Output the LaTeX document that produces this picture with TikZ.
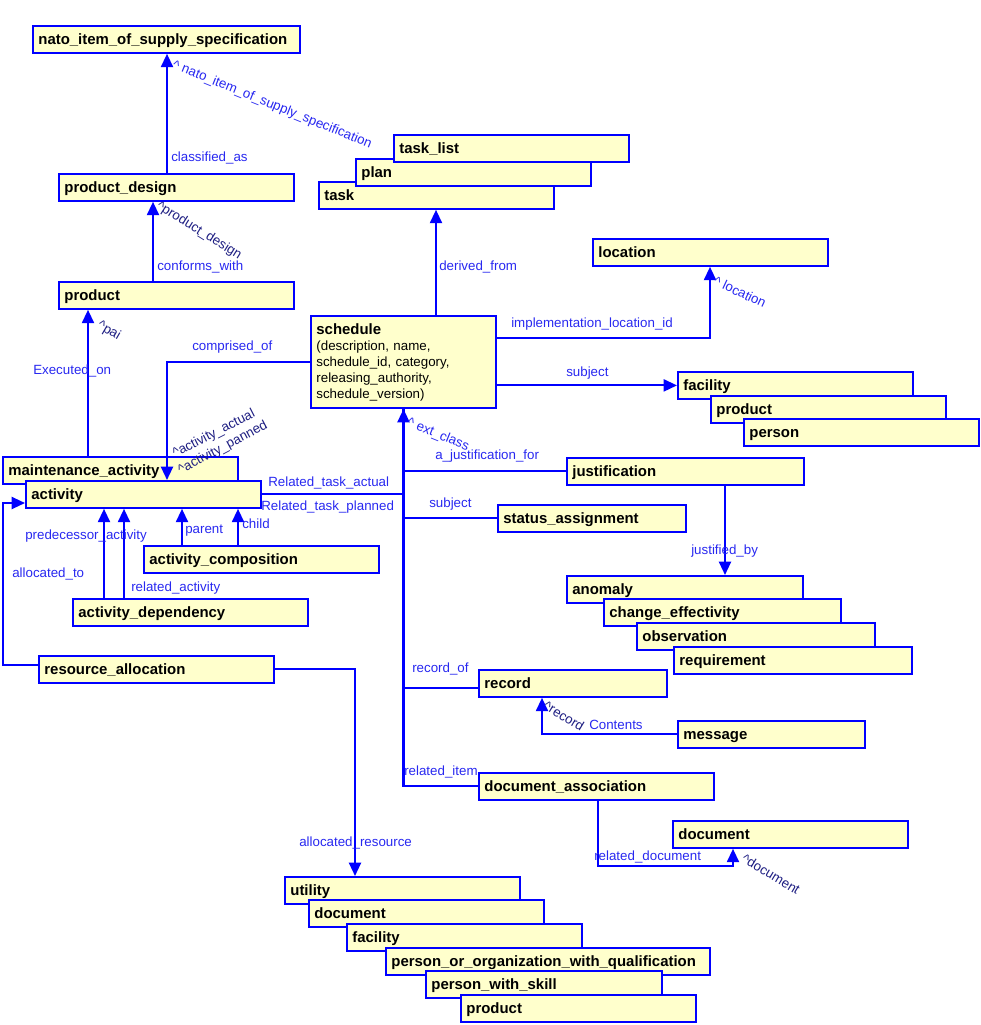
\documentclass[tikz,border=0pt]{standalone}
\usepackage{fontspec}
\setmainfont{Liberation Sans}
\usetikzlibrary{arrows.meta}

\definecolor{entblue}{RGB}{0,0,255}
\definecolor{entfill}{RGB}{255,255,204}
\definecolor{relblue}{RGB}{40,40,240}
\definecolor{rolenavy}{RGB}{30,30,130}

\newcommand{\entfont}{\fontsize{11.2pt}{13pt}\selectfont\bfseries}
\newcommand{\relfont}{\fontsize{10pt}{12pt}\selectfont}

\tikzset{
  entbase/.style={draw=entblue, fill=entfill, line width=1.6pt, anchor=north west,
    inner xsep=4pt, inner ysep=0pt, align=left, text width=#1*0.75pt-9.6pt},
  ent/.style={entbase=#1, minimum height=20pt, text height=9.4pt, text depth=2pt, font=\entfont},
  ent/.default=237,
  rel/.style={draw=entblue, line width=1.6pt, -{Triangle[length=10pt,width=9pt]}},
  link/.style={draw=entblue, line width=1.6pt},
  lbl/.style={font=\relfont, text=relblue, inner sep=0pt, anchor=west},
  role/.style={font=\relfont, text=rolenavy, inner sep=0pt},
}

\begin{document}
\begin{tikzpicture}[x=0.75pt, y=-0.75pt]

    \useasboundingbox (0,0) rectangle (981,1025);

    % Draw the entities (a later box lies on top of an earlier one)
    \node[ent=269] (nisspec) at (32,25) {nato\_item\_of\_supply\_specification};
    \node[ent] (task) at (318,181) {task};
    \node[ent] (plan) at (355,158) {plan};
    \node[ent] (tasklist) at (393,134) {task\_list};
    \node[ent] (pdesign) at (58,173) {product\_design};
    \node[ent] (location) at (592,238) {location};
    \node[ent] (product) at (58,281) {product};
    \node[entbase=187, minimum height=68.9pt, font=\relfont] (schedule) at (310,315)
        {{\entfont schedule}\\(description, name,\\schedule\_id, category,\\releasing\_authority,\\schedule\_version)};
    \node[ent] (facility) at (677,371) {facility};
    \node[ent] (sproduct) at (710,395) {product};
    \node[ent] (person) at (743,418) {person};
    \node[ent] (mactivity) at (2,456) {maintenance\_activity};
    \node[ent] (activity) at (25,480) {activity};
    \node[ent=239] (justification) at (566,457) {justification};
    \node[ent=190] (sassign) at (497,504) {status\_assignment};
    \node[ent] (acomp) at (143,545) {activity\_composition};
    \node[ent=238] (anomaly) at (566,575) {anomaly};
    \node[ent=239] (ceffect) at (603,598) {change\_effectivity};
    \node[ent=240] (observation) at (636,622) {observation};
    \node[ent=240] (requirement) at (673,646) {requirement};
    \node[ent] (adep) at (72,598) {activity\_dependency};
    \node[ent] (ralloc) at (38,655) {resource\_allocation};
    \node[ent=190] (record) at (478,669) {record};
    \node[ent=189] (message) at (677,720) {message};
    \node[ent] (dassoc) at (478,772) {document\_association};
    \node[ent] (document) at (672,820) {document};
    \node[ent] (utility) at (284,876) {utility};
    \node[ent] (rdocument) at (308,899) {document};
    \node[ent] (rfacility) at (346,923) {facility};
    \node[ent=326] (porg) at (385,947) {person\_or\_organization\_with\_qualification};
    \node[ent=238] (pskill) at (425,970) {person\_with\_skill};
    \node[ent] (rproduct) at (460,994) {product};

    % Draw the relationships
    \draw[rel] (pdesign.north -| 167,0) -- (nisspec.south -| 167,0);
    \draw[rel] (product.north -| 153,0) -- (pdesign.south -| 153,0);
    \draw[rel] (mactivity.north -| 88,0) -- (product.south -| 88,0);
    \draw[rel] (schedule.west) -| (activity.north -| 167,0);
    \draw[rel] (schedule.north -| 436,0) -- (task.south -| 436,0);
    \draw[rel] (schedule.east |- 0,338) -| (location.south -| 710,0);
    \draw[rel] (schedule.east |- facility.west) -- (facility.west);
    \draw[rel] (justification.south -| 725,0) -- (anomaly.north -| 725,0);

    % branches that meet the trunk under schedule
    \draw[link] (activity.east) -| (schedule.south);
    \draw[link] (justification.west) -| (schedule.south);
    \draw[link] (sassign.west) -| (schedule.south);
    \draw[link] (record.west |- 0,688) -| (schedule.south);
    \draw[rel] (dassoc.west) -| (schedule.south);

    \draw[rel] (adep.north -| 104,0) -- (activity.south -| 104,0);
    \draw[rel] (adep.north -| 124,0) -- (activity.south -| 124,0);
    \draw[rel] (acomp.north -| 182,0) -- (activity.south -| 182,0);
    \draw[rel] (acomp.north -| 238,0) -- (activity.south -| 238,0);
    \draw[rel] (ralloc.west |- 0,665) -| (3,503) -- (activity.west |- 0,503);
    \draw[rel] (ralloc.east) -| (utility.north -| 355,0);
    \draw[rel] (message.west) -| (record.south -| 542,0);
    \draw[rel] (dassoc.south -| 598,0) |- (733,866) -- (document.south -| 733,0);

    % Label the relationships
    \node[lbl] (lclassified) at (171,158) {classified\_as};
    \node[lbl] (lconforms) at (157,267) {conforms\_with};
    \node[lbl] (lexecuted) at (33,371) {Executed\_on};
    \node[lbl] (lcomprised) at (192,347) {comprised\_of};
    \node[lbl] (lactual) at (268,483) {Related\_task\_actual};
    \node[lbl] (lplanned) at (261,507) {Related\_task\_planned};
    \node[lbl] (lpredecessor) at (25,536) {predecessor\_activity};
    \node[lbl] (lparent) at (185,531) {parent};
    \node[lbl] (lchild) at (242,524) {child};
    \node[lbl] (lallocto) at (12,574) {allocated\_to};
    \node[lbl] (lrelated) at (131,588) {related\_activity};
    \node[lbl] (lderived) at (439,267) {derived\_from};
    \node[lbl] (limplement) at (511,324) {implementation\_location\_id};
    \node[lbl] (lsubject) at (566,373) {subject};
    \node[lbl] (ljustfor) at (435,456) {a\_justification\_for};
    \node[lbl] (lsubjectb) at (429,504) {subject};
    \node[lbl] (ljustby) at (691,551) {justified\_by};
    \node[lbl] (lrecordof) at (412,669) {record\_of};
    \node[lbl] (lcontents) at (589,725) {Contents};
    \node[lbl] (litem) at (404,772) {related\_item};
    \node[lbl] (ldocument) at (594,857) {related\_document};
    \node[lbl] (lresource) at (299,843) {allocated\_resource};

    % Label the roles at the arrow heads
    \node[role, text=relblue, rotate=-22] (rnis) at (272,105) {\textasciicircum{} nato\_item\_of\_supply\_specification};
    \node[role, rotate=-32] (rpdesign) at (199,231) {\textasciicircum product\_design};
    \node[role, rotate=-30] (rpai) at (109,331) {\textasciicircum pai};
    \node[role, rotate=27] (ractual) at (214,434) {\textasciicircum activity\_actual};
    \node[role, rotate=28] (rpanned) at (223,448) {\textasciicircum activity\_panned};
    \node[role, text=relblue, rotate=-25] (rlocation) at (740,292) {\textasciicircum{} location};
    \node[role, text=relblue, rotate=-22] (rext) at (438,435) {\textasciicircum{} ext\_class};
    \node[role, rotate=-31] (rrecord) at (564,716) {\textasciicircum record};
    \node[role, rotate=-31] (rdocument) at (771,874) {\textasciicircum document};

\end{tikzpicture}
\end{document}
